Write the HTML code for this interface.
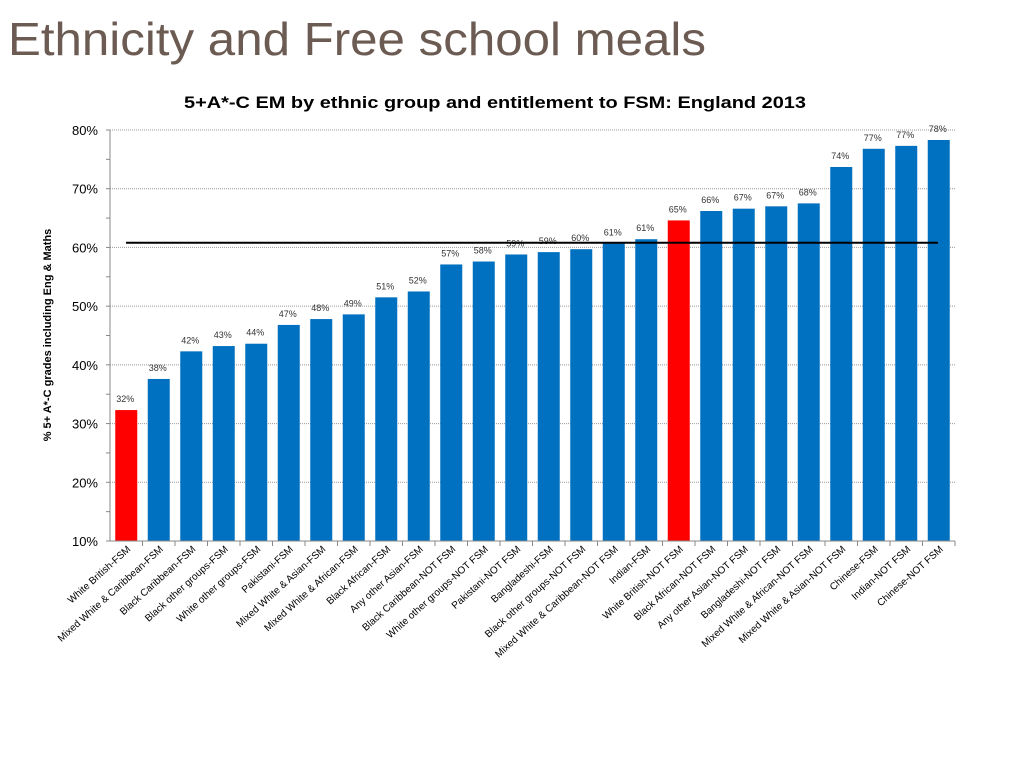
<!DOCTYPE html>
<html><head><meta charset="utf-8"><style>
html,body{margin:0;padding:0;background:#fff;}
svg{display:block;font-family:"Liberation Sans",sans-serif;}
</style></head><body>
<svg id="chart" width="1024" height="768">
<text x="8" y="55" font-size="46" fill="#6b5b52" textLength="698" lengthAdjust="spacingAndGlyphs">Ethnicity and Free school meals</text>
<text x="184" y="108" font-size="17" font-weight="bold" fill="#000" textLength="622" lengthAdjust="spacingAndGlyphs">5+A*-C EM by ethnic group and entitlement to FSM: England 2013</text>
<text transform="translate(51,335) rotate(-90)" text-anchor="middle" font-size="11" font-weight="bold" fill="#000">% 5+ A*-C grades including Eng &amp; Maths</text>
<g id="grid"></g><g id="bars"></g><g id="axes"></g><g id="labels"></g>
</svg>
<script>
const categories=["White British-FSM","Mixed White & Caribbean-FSM","Black Caribbean-FSM","Black other groups-FSM","White other groups-FSM","Pakistani-FSM","Mixed White & Asian-FSM","Mixed White & African-FSM","Black African-FSM","Any other Asian-FSM","Black Caribbean-NOT FSM","White other groups-NOT FSM","Pakistani-NOT FSM","Bangladeshi-FSM","Black other groups-NOT FSM","Mixed White & Caribbean-NOT FSM","Indian-FSM","White British-NOT FSM","Black African-NOT FSM","Any other Asian-NOT FSM","Bangladeshi-NOT FSM","Mixed White & African-NOT FSM","Mixed White & Asian-NOT FSM","Chinese-FSM","Indian-NOT FSM","Chinese-NOT FSM"];
const values=[32.3,37.6,42.3,43.2,43.6,46.8,47.8,48.6,51.5,52.5,57.1,57.6,58.8,59.2,59.7,60.7,61.4,64.6,66.2,66.6,67.0,67.5,73.7,76.8,77.3,78.3];
const valueLabels=["32%","38%","42%","43%","44%","47%","48%","49%","51%","52%","57%","58%","59%","59%","60%","61%","61%","65%","66%","67%","67%","68%","74%","77%","77%","78%"];
const highlighted=["White British-FSM","White British-NOT FSM"];
const yTicks=[10,20,30,40,50,60,70,80];
const averageLine=[60.8];
const NS="http://www.w3.org/2000/svg";
const X0=110,X1=955,Y0=541,Y80=130;
const bw=(X1-X0)/categories.length;
function y(v){return Y0-(v-10)*(Y0-Y80)/70;}
function xc(i){return X0+bw*(i+0.5);}
function mk(tag,attrs,parent){const e=document.createElementNS(NS,tag);for(const k in attrs)e.setAttribute(k,attrs[k]);document.getElementById(parent).appendChild(e);return e;}
yTicks.forEach(t=>{
  if(t>10){const g=mk('line',{x1:X0,x2:X1,y1:y(t),y2:y(t),stroke:'#999','stroke-dasharray':'1,1','stroke-width':1},'grid');
  
  }
  const l=mk('text',{x:X0-12,y:y(t)+5,'text-anchor':'end','font-size':13,fill:'#000'},'axes');
  l.textContent=t+'%';
  
  
});
for(let t=10;t<=80;t+=5){const tk=mk('line',{x1:X0-4,x2:X0,y1:y(t),y2:y(t),stroke:'#888'},'axes');

}
const ya=mk('line',{x1:X0,x2:X0,y1:Y80,y2:Y0,stroke:'#888'},'axes');


const xa=mk('line',{x1:X0,x2:X1,y1:Y0,y2:Y0,stroke:'#888'},'axes');


categories.forEach((c,i)=>{
  const v=values[i];
  const b=mk('rect',{x:xc(i)-11,y:y(v),width:22,height:Y0-y(v),fill:highlighted.includes(c)?'#ff0000':'#0070c0'},'bars');
  
  
  const vl=mk('text',{x:xc(i)-1,y:y(v)-8,'text-anchor':'middle','font-size':9,fill:'#333'},'labels');
  vl.textContent=valueLabels[i];
  
  
  const tk=mk('line',{x1:X0+bw*(i+1),x2:X0+bw*(i+1),y1:Y0,y2:Y0+5,stroke:'#888'},'axes');
  
  
  const xl=mk('text',{transform:`translate(${xc(i)+5},${Y0+9}) rotate(-42)`,'text-anchor':'end','font-size':10,fill:'#000'},'labels');
  xl.textContent=c;
  
  
});
const al=mk('line',{x1:126,x2:938,y1:y(averageLine[0]),y2:y(averageLine[0]),stroke:'#000','stroke-width':2},'labels');


</script>
</body></html>
